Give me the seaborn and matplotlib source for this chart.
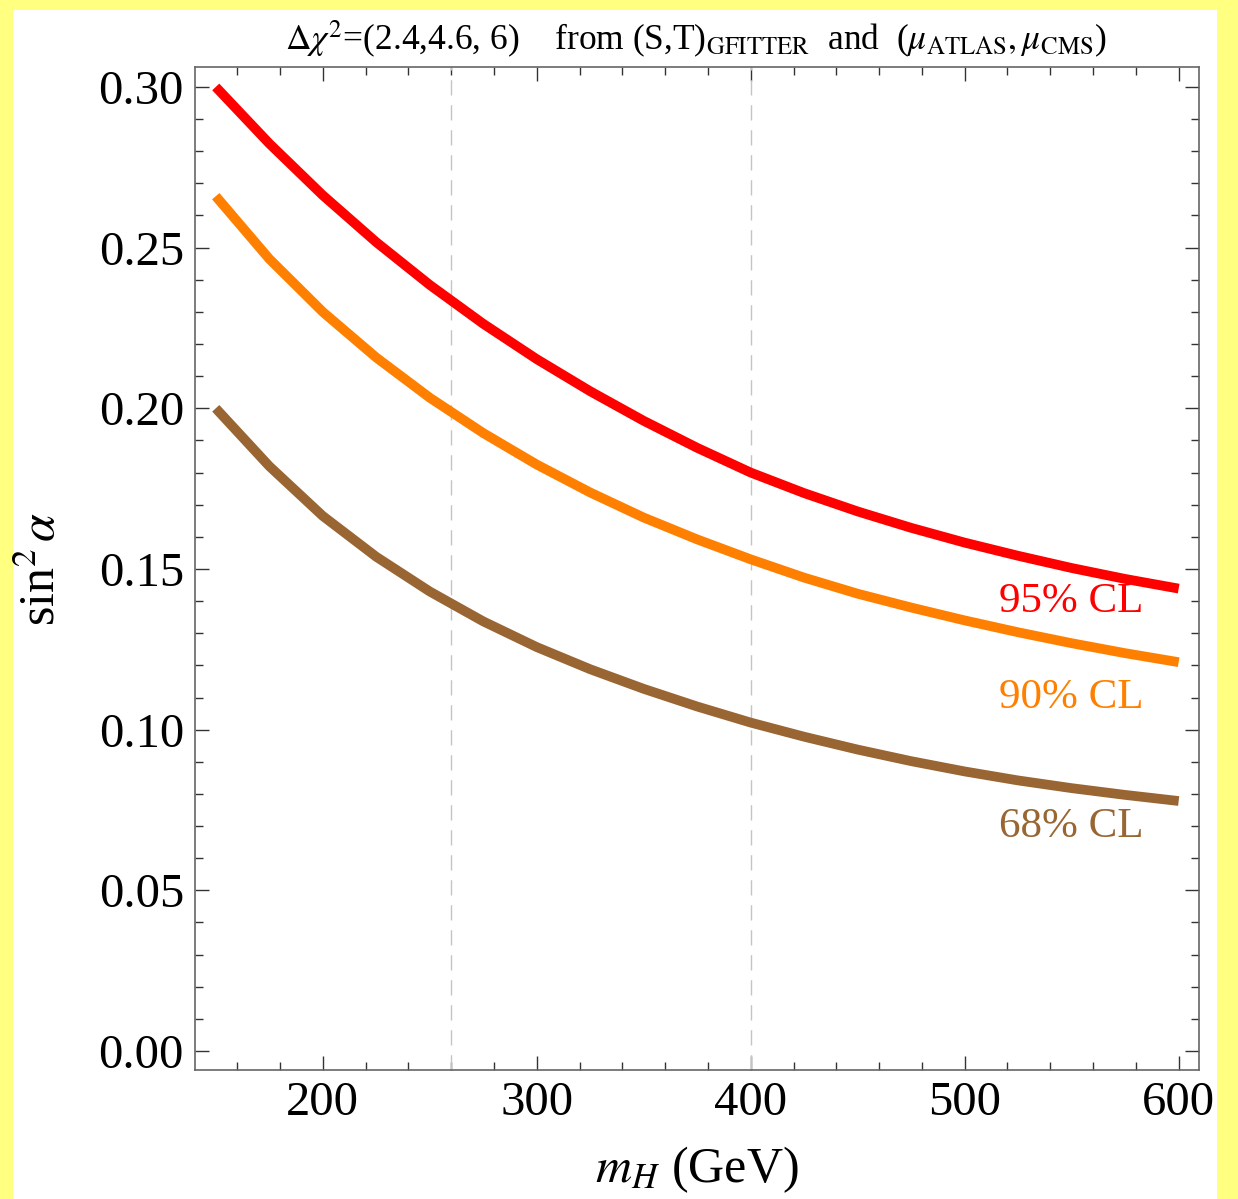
import numpy as np
import pandas as pd
import matplotlib
matplotlib.use("Agg")
import matplotlib.pyplot as plt
from matplotlib.ticker import MultipleLocator, FormatStrFormatter
from matplotlib.patches import Rectangle
import seaborn as sns

# ---- data ----
m_H = [150, 175, 200, 225, 250, 275, 300, 325, 350, 375, 400,
       425, 450, 475, 500, 525, 550, 575, 600]
cl95 = [0.3000, 0.2824, 0.2663, 0.2517, 0.2384, 0.2263, 0.2153, 0.2053, 0.1961, 0.1877,
        0.1800, 0.1736, 0.1679, 0.1628, 0.1582, 0.1541, 0.1503, 0.1469, 0.1439]
cl90 = [0.2660, 0.2465, 0.2300, 0.2158, 0.2033, 0.1923, 0.1825, 0.1738, 0.1660, 0.1592,
        0.1530, 0.1473, 0.1423, 0.1380, 0.1340, 0.1303, 0.1269, 0.1238, 0.1210]
cl68 = [0.2000, 0.1820, 0.1665, 0.1538, 0.1430, 0.1337, 0.1257, 0.1188, 0.1127, 0.1072,
        0.1022, 0.0978, 0.0938, 0.0902, 0.0870, 0.0842, 0.0818, 0.0797, 0.0778]
series_names = ["95% CL", "90% CL", "68% CL"]
series_colors = ["#FF0000", "#FF8000", "#996633"]
vlines = [260, 400]
x_ticks = [200, 300, 400, 500, 600]
y_ticks = [0.00, 0.05, 0.10, 0.15, 0.20, 0.25, 0.30]

df = pd.DataFrame({
    "m_H": m_H * 3,
    "sin2a": cl95 + cl90 + cl68,
    "CL": [series_names[0]] * len(m_H) + [series_names[1]] * len(m_H) + [series_names[2]] * len(m_H),
})

sns.set_style("ticks")
plt.rcParams["font.family"] = ["Liberation Serif", "DejaVu Serif"]
plt.rcParams["mathtext.fontset"] = "stix"

fig = plt.figure(figsize=(12.38, 11.99), dpi=100)
fig.patch.set_facecolor("#FFFF80")
bg = Rectangle((13 / 1238, 0), (1217 - 13) / 1238, (1199 - 10) / 1199,
               transform=fig.transFigure, facecolor="white",
               edgecolor="none", zorder=-10)
fig.add_artist(bg)

ax = fig.add_axes([195 / 1238, (1199 - 1070) / 1199, 1004 / 1238, 1003 / 1199])
ax.set_facecolor("white")

for xv in vlines:
    ax.axvline(xv, color="#c4c4c4", lw=1.0, dashes=(11, 7), zorder=1)

sns.lineplot(data=df, x="m_H", y="sin2a", hue="CL", hue_order=series_names,
             palette=dict(zip(series_names, series_colors)), lw=7,
             legend=False, ax=ax, zorder=3)
for line in ax.get_lines():
    line.set_solid_capstyle("butt")
    line.set_solid_joinstyle("round")

ax.set_xlim(140.3, 609.5)
ax.set_ylim(-0.0059, 0.3062)
ax.xaxis.set_major_locator(MultipleLocator(100))
ax.xaxis.set_minor_locator(MultipleLocator(20))
ax.yaxis.set_major_locator(MultipleLocator(0.05))
ax.yaxis.set_minor_locator(MultipleLocator(0.01))
ax.set_xticks(x_ticks)
ax.set_yticks(y_ticks)
ax.yaxis.set_major_formatter(FormatStrFormatter("%.2f"))

ax.tick_params(which="both", direction="in", top=True, right=True,
               color="#333333", width=1.0, labelcolor="black")
ax.tick_params(which="major", length=10, labelsize=35, pad=8)
ax.tick_params(which="minor", length=6)
for s in ax.spines.values():
    s.set_color("#666666")
    s.set_linewidth(1.2)

ax.set_xlabel(r"$m_H$ (GeV)", fontsize=36, labelpad=14, color="black")
ax.set_ylabel(r"sin$^2\,\alpha$", fontsize=36, color="black")
ax.yaxis.set_label_coords(-0.128, 0.5)

label_y = [0.1398, 0.1099, 0.0699]
for name, col, yv in zip(series_names, series_colors, label_y):
    ax.text(583.5, yv, name, color=col, fontsize=31, ha="right", va="center")

fig.text(696 / 1238, 1 - 40 / 1199,
         r"$\Delta\chi^2$=(2.4,4.6, 6)    from (S,T)$_{\rm GFITTER}$  and  ($\mu_{\rm ATLAS},\mu_{\rm CMS}$)",
         fontsize=25.5, ha="center", va="center", color="black")

fig.savefig("out.png", dpi=100, facecolor=fig.get_facecolor())
